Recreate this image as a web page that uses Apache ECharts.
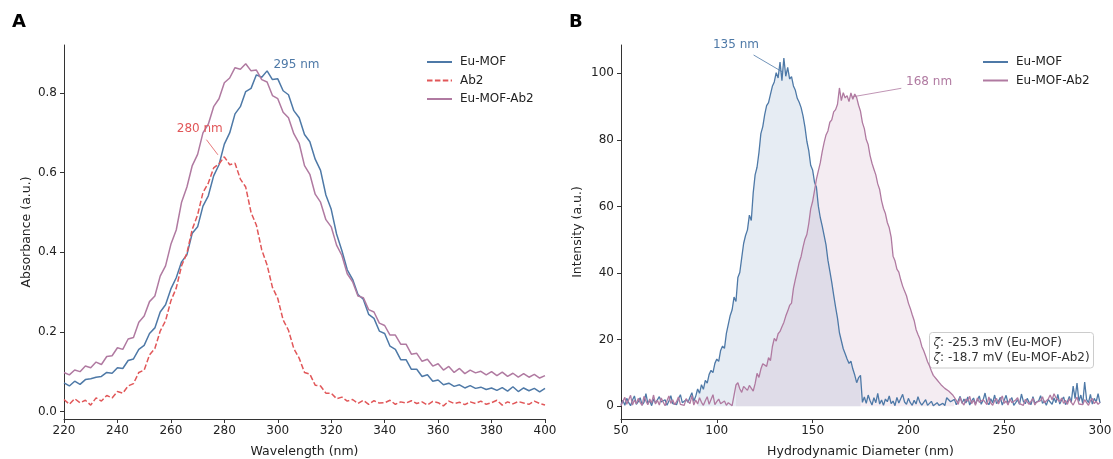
<!DOCTYPE html>
<html>
<head>
<meta charset="utf-8">
<script src="https://cdn.jsdelivr.net/npm/echarts@6/dist/echarts.min.js"></script>
<style>
  html, body { margin: 0; padding: 0; background: #fff; }
  #chart { width: 1113px; height: 459px; }
</style>
</head>
<body>
<div id="chart"></div>
<script>
// ---- panel A: UV-vis absorbance, sampled every 2 nm from 220 nm ----
const wlStart = 220
const wlStep = 2
const euMofAbs = [
  .072, .064, .076, .068, .080, .082, .086, .088, .098, .096,
  .110, .108, .128, .132, .156, .166, .196, .210, .250, .268,
  .308, .336, .376, .394, .448, .464, .516, .542, .592, .620,
  .672, .700, .748, .766, .804, .812, .846, .840, .856, .834,
  .836, .806, .796, .756, .738, .696, .678, .634, .606, .544,
  .508, .446, .404, .356, .332, .294, .282, .244, .234, .202,
  .196, .164, .156, .130, .130, .106, .106, .088, .092, .076,
  .079, .067, .071, .063, .067, .059, .065, .058, .061, .055,
  .059, .053, .060, .051, .062, .050, .059, .052, .058, .049,
  .058,
]
const ab2Abs = [
  .030, .018, .032, .022, .028, .016, .034, .026, .040, .034,
  .050, .046, .064, .070, .098, .104, .142, .158, .202, .228,
  .278, .310, .366, .398, .458, .494, .550, .574, .612, .622,
  .640, .620, .624, .584, .564, .500, .468, .406, .368, .312,
  .284, .230, .204, .158, .134, .098, .094, .066, .064, .046,
  .046, .032, .036, .026, .030, .020, .028, .018, .027, .021,
  .022, .028, .018, .024, .021, .027, .020, .024, .016, .025,
  .022, .014, .026, .020, .023, .017, .024, .020, .026, .018,
  .022, .028, .016, .024, .019, .025, .021, .018, .026, .020,
  .016,
]
const euMofAb2Abs = [
  .098, .092, .104, .100, .114, .110, .124, .118, .138, .140,
  .160, .156, .182, .186, .224, .240, .276, .290, .340, .366,
  .420, .456, .526, .564, .618, .646, .700, .722, .766, .786,
  .826, .838, .864, .860, .874, .856, .858, .834, .828, .794,
  .786, .752, .738, .698, .674, .618, .596, .546, .526, .482,
  .464, .418, .392, .346, .326, .290, .286, .256, .250, .222,
  .216, .192, .192, .169, .169, .144, .146, .126, .131, .114,
  .120, .104, .113, .098, .108, .095, .104, .097, .101, .092,
  .100, .090, .099, .088, .096, .086, .095, .086, .093, .084,
  .090,
]
const absTicks = [0, 0.2, 0.4, 0.6, 0.8]

// ---- panel B: DLS size distribution, sampled every 1 nm from 50 nm ----
const dStart = 50
const dStep = 1
const euMofDls = [
  0.5, 1.8, 0.3, 2.4, 1.1, 0.2, 1.9, 3.1, 0.6, 1.4,
  2.6, 0.4, 1.2, 3.8, 0.9, 1.7, 0.2, 2.2, 1.0, 0.4,
  2.9, 1.3, 0.7, 2.0, 0.3, 1.6, 3.2, 0.8, 1.4, 0.5,
  2.3, 3.5, 1.1, 0.6, 2.0, 1.2, 2.7, 4.1, 1.5, 3.0,
  5.2, 3.9, 6.5, 5.1, 7.8, 7.0, 9.6, 10.8, 10.1, 12.9,
  14.2, 13.5, 16.8, 18.1, 17.4, 21.9, 24.6, 27.3, 29.0, 32.8,
  31.5, 38.7, 40.2, 44.6, 48.9, 51.3, 53.0, 57.4, 55.8, 64.1,
  69.5, 71.8, 76.2, 81.9, 84.0, 87.6, 90.3, 91.2, 93.7, 96.1,
  97.4, 100.2, 98.6, 103.4, 97.8, 104.6, 99.1, 101.8, 98.3, 99.0,
  96.2, 94.9, 92.5, 91.3, 89.7, 87.2, 83.9, 79.6, 76.8, 72.4,
  71.0, 67.3, 65.8, 60.1, 56.7, 54.2, 53.8, 48.5, 43.9, 40.6,
  37.2, 33.4, 29.8, 26.5, 22.1, 19.7, 17.3, 15.8, 14.2, 12.9,
  13.6, 11.2, 9.4, 7.1, 8.6, 9.3, 1.2, 2.8, 0.9, 3.4,
  1.7, 0.4, 2.6, 1.1, 3.9, 0.7, 1.9, 0.3, 2.2, 1.4,
  3.1, 0.8, 1.6, 0.2, 2.7, 1.0, 0.5, 3.6, 1.3, 0.6,
  2.4, 1.1, 0.3, 1.8, 0.7, 2.9, 1.2, 0.4, 0.9, 2.0,
  0.3, 0.8, 1.5, 0.2, 0.6, 1.1, 0.3, 0.5, 0.9, 0.2,
  2.6, 3.2, 1.4, 0.8, 2.1, 0.5, 1.7, 3.0, 0.9, 2.2,
  1.0, 2.8, 0.4, 1.6, 2.5, 0.7, 1.3, 3.1, 0.6, 1.9,
  4.0, 1.2, 0.5, 2.3, 1.0, 3.4, 0.8, 1.5, 2.7, 0.4,
  1.8, 3.3, 0.9, 1.4, 2.6, 0.3, 1.1, 2.0, 0.6, 3.7,
  1.5, 0.8, 2.4, 1.2, 0.5, 2.9, 1.0, 0.4, 1.7, 3.2,
  0.9, 1.6, 0.3, 2.1, 1.3, 0.6, 2.5, 1.1, 3.6, 0.7,
  1.9, 2.8, 0.5, 1.4, 3.0, 1.2, 6.1, 2.3, 7.0, 1.5,
  3.4, 0.8, 7.3, 2.0, 1.1, 3.6, 0.7, 2.4, 1.3, 3.8,
  1.0,
]
const euMofAb2Dls = [
  0.2, 1.5, 2.7, 0.6, 1.1, 3.3, 0.4, 1.9, 0.8, 2.4,
  1.2, 0.3, 3.0, 1.6, 0.5, 2.2, 1.0, 3.4, 0.7, 1.8,
  0.4, 2.5, 1.3, 0.2, 1.7, 3.1, 0.9, 2.0, 0.5, 1.4,
  2.8, 0.6, 1.1, 0.3, 2.3, 1.5, 0.8, 3.2, 0.4, 1.9,
  0.7, 2.6, 1.2, 0.3, 1.7, 2.9, 0.6, 1.0, 3.5, 0.5,
  1.4, 2.2, 0.8, 0.4, 1.6, 0.3, 1.1, 0.6, 0.2, 0.8,
  6.4, 7.1, 5.3, 4.2, 6.0, 5.5, 4.8, 6.3, 5.9, 4.6,
  6.8, 9.9, 8.7, 11.2, 12.8, 13.1, 12.0, 14.6, 13.7, 17.9,
  20.4, 19.6, 21.8, 22.5, 23.9, 25.2, 27.1, 28.6, 30.3, 31.0,
  35.4, 38.1, 40.6, 43.2, 45.0, 47.8, 50.2, 51.6, 54.9, 59.3,
  61.5, 64.8, 68.2, 70.7, 73.1, 76.4, 79.2, 81.5, 82.7, 85.3,
  86.0, 88.4, 89.1, 90.7, 95.6, 91.8, 94.2, 92.6, 93.3, 91.5,
  94.1, 92.2, 93.8, 92.7, 90.4, 88.6, 85.2, 83.4, 80.1, 78.6,
  75.3, 73.0, 71.2, 69.5, 66.8, 65.1, 61.7, 59.4, 57.9, 55.2,
  53.6, 50.8, 45.1, 43.7, 41.2, 40.3, 38.0, 36.1, 34.6, 33.2,
  31.0, 29.4, 27.5, 25.8, 23.1, 21.6, 20.2, 18.0, 16.7, 15.1,
  13.4, 12.2, 10.6, 9.3, 8.7, 7.9, 7.2, 6.5, 6.1, 5.4,
  5.8, 4.6, 4.1, 3.5, 2.9, 1.8, 0.6, 2.7, 1.1, 0.4,
  2.2, 1.5, 3.0, 0.8, 1.9, 0.3, 2.5, 1.2, 0.6, 2.0,
  1.4, 0.5, 2.8, 1.0, 0.3, 1.7, 2.4, 0.7, 1.3, 3.1,
  0.9, 1.6, 0.4, 2.3, 1.1, 0.5, 1.9, 2.6, 0.8, 1.2,
  0.3, 2.1, 1.5, 0.6, 1.0, 2.4, 0.4, 1.3, 0.8, 1.7,
  2.9, 1.1, 0.5, 2.2, 3.4, 2.0, 3.8, 2.6, 3.1, 1.4,
  2.5, 0.9, 1.8, 0.6, 2.3, 1.2, 0.4, 1.6, 2.8, 0.7,
  1.3, 0.5, 2.0, 1.1, 0.3, 1.7, 2.4, 0.8, 1.5, 0.6,
  1.2,
]
const euMofFillRange = [90, 175]
const euMofAb2FillRange = [110, 224]
const dlsTicks = [0, 20, 40, 60, 80, 100]

const C_BLUE = '#4e79a7'
const C_RED = '#e15759'
const C_PINK = '#b07aa1'
const AXIS = '#333'
const FONT = 'DejaVu Sans'

const toPairs = (start, step, ys) => ys.map((y, i) => [start + i * step, y])
const inRange = (pts, [lo, hi]) => pts.map(([x, y]) => [x, x >= lo && x <= hi ? y : '-'])

const axisCommon = {
  axisLine: { show: true, onZero: false, lineStyle: { color: AXIS, width: 1 } },
  axisTick: { show: true, length: 4, lineStyle: { color: AXIS, width: 1 } },
  splitLine: { show: false },
  nameLocation: 'middle',
  nameTextStyle: { color: '#222', fontSize: 12.5, fontFamily: FONT },
}

function note(text, color, coord) {
  return {
    symbol: 'circle', symbolSize: 0, silent: true, animation: false,
    label: { show: true, position: 'inside', formatter: text, color, fontSize: 12, fontFamily: FONT },
    data: [{ coord }],
  }
}
function leader(color, from, to) {
  return {
    symbol: ['none', 'none'], silent: true, animation: false,
    label: { show: false },
    lineStyle: { color, width: 0.8, type: 'solid' },
    data: [[{ coord: from }, { coord: to }]],
  }
}

// legend shows only the line, no marker
const legendBase = {
  orient: 'vertical', top: 56, padding: 0,
  itemWidth: 25, itemHeight: 12, itemGap: 6.5,
  itemStyle: { color: 'transparent', borderColor: 'transparent', borderWidth: 0, opacity: 0 },
  textStyle: { fontSize: 12, color: '#222', padding: [0, 0, 0, 3] },
}

const euMofPts = toPairs(dStart, dStep, euMofDls)
const euMofAb2Pts = toPairs(dStart, dStep, euMofAb2Dls)

const option = {
  animation: false,
  textStyle: { fontFamily: FONT },
  title: [
    { text: 'A', left: 12, top: 13, padding: 0, textStyle: { fontSize: 18, fontWeight: 'bold', color: '#000', fontFamily: FONT } },
    { text: 'B', left: 569, top: 13, padding: 0, textStyle: { fontSize: 18, fontWeight: 'bold', color: '#000', fontFamily: FONT } },
  ],
  legend: [
    { ...legendBase, data: ['Eu-MOF', 'Ab2', 'Eu-MOF-Ab2'], left: 426 },
    { ...legendBase, data: ['Eu-MOF', 'Eu-MOF-Ab2'], left: 982 },
  ],
  grid: [
    { left: 64, top: 45, width: 481, height: 374, outerBoundsMode: 'none' },
    { left: 621, top: 45, width: 479, height: 374, outerBoundsMode: 'none' },
  ],
  xAxis: [
    {
      ...axisCommon, type: 'value', gridIndex: 0,
      min: 220, max: 400, interval: 20,
      name: 'Wavelength (nm)', nameGap: 26,
      axisLabel: { color: '#222', fontSize: 12, margin: 6 },
    },
    {
      ...axisCommon, type: 'value', gridIndex: 1,
      min: 50, max: 300, interval: 50,
      name: 'Hydrodynamic Diameter (nm)', nameGap: 26,
      axisLabel: { color: '#222', fontSize: 12, margin: 6 },
    },
  ],
  yAxis: [
    {
      ...axisCommon, type: 'value', gridIndex: 0,
      min: -0.019, max: 0.921,
      name: 'Absorbance (a.u.)', nameGap: 31,
      axisTick: { ...axisCommon.axisTick, customValues: absTicks },
      axisLabel: { color: '#222', fontSize: 12, margin: 7, customValues: absTicks, formatter: v => v.toFixed(1) },
    },
    {
      ...axisCommon, type: 'value', gridIndex: 1,
      min: -3.8, max: 108.5,
      name: 'Intensity (a.u.)', nameGap: 37,
      axisTick: { ...axisCommon.axisTick, customValues: dlsTicks },
      axisLabel: { color: '#222', fontSize: 12, margin: 7, customValues: dlsTicks },
    },
  ],
  series: [
    {
      name: 'Eu-MOF', type: 'line', xAxisIndex: 0, yAxisIndex: 0,
      data: toPairs(wlStart, wlStep, euMofAbs),
      symbol: 'none', color: C_BLUE, lineStyle: { color: C_BLUE, width: 1.5 },
      markPoint: note('295 nm', C_BLUE, [307, 0.871]),
    },
    {
      name: 'Ab2', type: 'line', xAxisIndex: 0, yAxisIndex: 0,
      data: toPairs(wlStart, wlStep, ab2Abs),
      symbol: 'none', color: C_RED, lineStyle: { color: C_RED, width: 1.5, type: [5.5, 2.4] },
      markPoint: note('280 nm', C_RED, [270.8, 0.71]),
      markLine: leader(C_RED, [273.3, 0.683], [277.6, 0.645]),
    },
    {
      name: 'Eu-MOF-Ab2', type: 'line', xAxisIndex: 0, yAxisIndex: 0,
      data: toPairs(wlStart, wlStep, euMofAb2Abs),
      symbol: 'none', color: C_PINK, lineStyle: { color: C_PINK, width: 1.5 },
    },
    {
      name: 'fill-euMof', type: 'line', xAxisIndex: 1, yAxisIndex: 1,
      data: inRange(euMofPts, euMofFillRange), connectNulls: false,
      symbol: 'none', lineStyle: { width: 0 },
      areaStyle: { color: 'rgba(78,121,167,0.2)', origin: 'auto' },
    },
    {
      name: 'fill-euMofAb2', type: 'line', xAxisIndex: 1, yAxisIndex: 1,
      data: inRange(euMofAb2Pts, euMofAb2FillRange), connectNulls: false,
      symbol: 'none', lineStyle: { width: 0 },
      areaStyle: { color: 'rgba(176,122,161,0.2)', origin: 'auto' },
    },
    {
      name: 'Eu-MOF', type: 'line', xAxisIndex: 1, yAxisIndex: 1,
      data: euMofPts,
      symbol: 'none', color: C_BLUE, lineStyle: { color: C_BLUE, width: 1.3 },
      markPoint: note('135 nm', C_BLUE, [110, 108.5]),
      markLine: leader(C_BLUE, [119.2, 105.5], [134, 100.5]),
    },
    {
      name: 'Eu-MOF-Ab2', type: 'line', xAxisIndex: 1, yAxisIndex: 1,
      data: euMofAb2Pts,
      symbol: 'none', color: C_PINK, lineStyle: { color: C_PINK, width: 1.3 },
      markPoint: note('168 nm', C_PINK, [210.8, 97.5]),
      markLine: leader(C_PINK, [196.3, 95.5], [170.5, 92.9]),
    },
  ],
  graphic: [
    {
      type: 'group', left: 929, top: 332,
      children: [
        {
          type: 'rect', shape: { x: 0, y: 0, width: 164, height: 35.5, r: 3 },
          style: { fill: 'rgba(255,255,255,0.8)', stroke: '#cccccc', lineWidth: 1 },
        },
        {
          type: 'text', x: 4, y: 2.5,
          style: {
            text: '{z|ζ}: -25.3 mV (Eu-MOF)\n{z|ζ}: -18.7 mV (Eu-MOF-Ab2)',
            font: '12px "DejaVu Sans"', fill: '#333', lineHeight: 15,
            rich: { z: { fontStyle: 'italic', fontSize: 12, fontFamily: FONT, fill: '#333', lineHeight: 15 } },
          },
        },
      ],
    },
  ],
}

const chart = echarts.init(document.getElementById('chart'))
chart.setOption(option)
</script>
</body>
</html>
